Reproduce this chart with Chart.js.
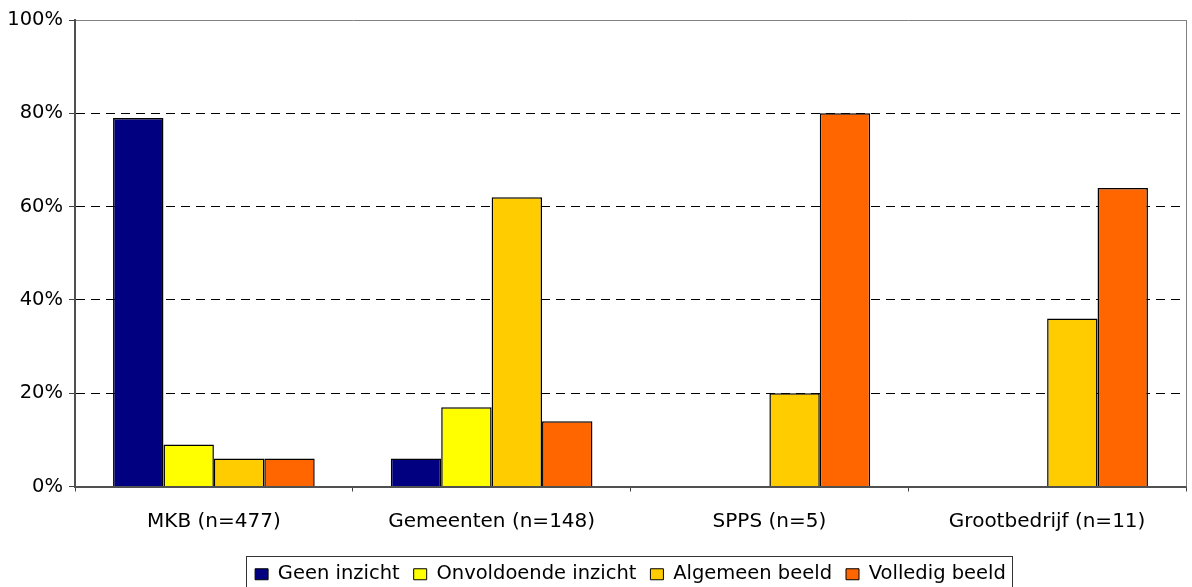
<!DOCTYPE html>
<html>
<head>
<meta charset="utf-8">
<script src="https://cdn.jsdelivr.net/npm/chart.js@4.4.1/dist/chart.umd.min.js"></script>
<style>
  html, body { margin: 0; padding: 0; background: #ffffff; }
  #wrap { width: 1192px; height: 587px; position: relative; }
</style>
</head>
<body>
<div id="wrap"><canvas id="c" width="1192" height="587"></canvas></div>
<script>
const categories = ['MKB (n=477)', 'Gemeenten (n=148)', 'SPPS (n=5)', 'Grootbedrijf (n=11)'];
const seriesNames = ['Geen inzicht', 'Onvoldoende inzicht', 'Algemeen beeld', 'Volledig beeld'];
const geenInzicht = [79, 6, 0, 0];
const onvoldoendeInzicht = [9, 17, 0, 0];
const algemeenBeeld = [6, 62, 20, 36];
const volledigBeeld = [6, 14, 80, 64];
const yTickValues = [0, 20, 40, 60, 80, 100];
const seriesColors = ['#000080', '#FFFF00', '#FFCC00', '#FF6600'];

const seriesValues = [geenInzicht, onvoldoendeInzicht, algemeenBeeld, volledigBeeld];

const FONT = 'DejaVu Sans';

const framePlugin = {
  id: 'framePlugin',
  afterLayout(chart) {
    const l = chart.legend;
    const a = chart.chartArea;
    if (l) {
      l.left = a.left;
      l.right = a.right;
      l.width = a.right - a.left;
      l.top += 7;
      l.bottom += 7;
    }
  },
  afterDraw(chart) {
    const ctx = chart.ctx;
    const a = chart.chartArea;
    ctx.save();
    // right border of plot area
    ctx.strokeStyle = '#808080';
    ctx.lineWidth = 1;
    ctx.beginPath();
    ctx.moveTo(Math.round(a.right) + 0.5, a.top);
    ctx.lineTo(Math.round(a.right) + 0.5, a.bottom);
    ctx.stroke();
    // legend frame
    const l = chart.legend;
    if (l && l.legendHitBoxes && l.legendHitBoxes.length) {
      const hb = l.legendHitBoxes;
      const first = hb[0];
      const last = hb[hb.length - 1];
      const cy = first.top + first.height / 2;
      const x0 = first.left - 9;
      const x1 = last.left + last.width + 6;
      ctx.strokeStyle = '#333333';
      ctx.lineWidth = 1;
      ctx.strokeRect(Math.round(x0) + 0.5, Math.round(cy - 18.5) + 0.5, Math.round(x1 - x0), 40);
    }
    ctx.restore();
  }
};

new Chart(document.getElementById('c'), {
  type: 'bar',
  data: {
    labels: categories,
    datasets: seriesNames.map((name, i) => ({
      label: name,
      data: seriesValues[i],
      backgroundColor: seriesColors[i],
      borderColor: '#000000',
      borderWidth: 1.5,
      borderSkipped: 'start',
      categoryPercentage: 0.726,
      barPercentage: 1.0
    }))
  },
  options: {
    responsive: false,
    animation: false,
    devicePixelRatio: 1,
    layout: { padding: { left: 0, right: 6, top: 20, bottom: 0 } },
    plugins: {
      tooltip: { enabled: false },
      title: { display: false },
      legend: {
        display: true,
        position: 'bottom',
        align: 'center',
        labels: {
          font: { family: FONT, size: 19.5 },
          color: '#000000',
          boxWidth: 13,
          boxHeight: 11,
          padding: 14,
          generateLabels(chart) {
            return chart.data.datasets.map((ds, i) => ({
              text: ds.label,
              fillStyle: ds.backgroundColor,
              strokeStyle: '#000000',
              lineWidth: 1,
              hidden: false,
              datasetIndex: i,
              fontColor: '#000000'
            }));
          }
        }
      }
    },
    scales: {
      x: {
        offset: true,
        grid: {
          offset: true,
          drawOnChartArea: false,
          drawTicks: true,
          tickLength: 5,
          tickColor: '#404040',
          tickWidth: 1
        },
        border: { display: true, color: '#505050', width: 2, z: 1 },
        ticks: {
          font: { family: FONT, size: 20 },
          color: '#000000',
          padding: 18,
          maxRotation: 0,
          autoSkip: false
        },
        afterFit(scale) { scale.height = 57; }
      },
      y: {
        min: 0,
        max: 100,
        afterBuildTicks(scale) { scale.ticks = yTickValues.map(v => ({ value: v })); },
        grid: {
          drawOnChartArea: true,
          drawTicks: true,
          tickLength: 6,
          tickColor: '#404040',
          tickWidth: 1,
          lineWidth: 1,
          color: (ctx) => {
            if (!ctx.tick) return '#000000';
            if (ctx.tick.value === 100) return '#808080';
            if (ctx.tick.value === 0) return 'rgba(0,0,0,0)';
            return '#000000';
          }
        },
        border: {
          display: true,
          color: '#505050',
          width: 2,
          z: 1,
          dash: (ctx) => (ctx.tick && ctx.tick.value === 100) ? [] : [9, 6]
        },
        ticks: {
          font: { family: FONT, size: 19.5 },
          color: '#000000',
          padding: 6,
          callback: (v) => v + '%'
        },
        afterFit(scale) { scale.width = 75; }
      }
    }
  },
  plugins: [framePlugin]
});
</script>
</body>
</html>
